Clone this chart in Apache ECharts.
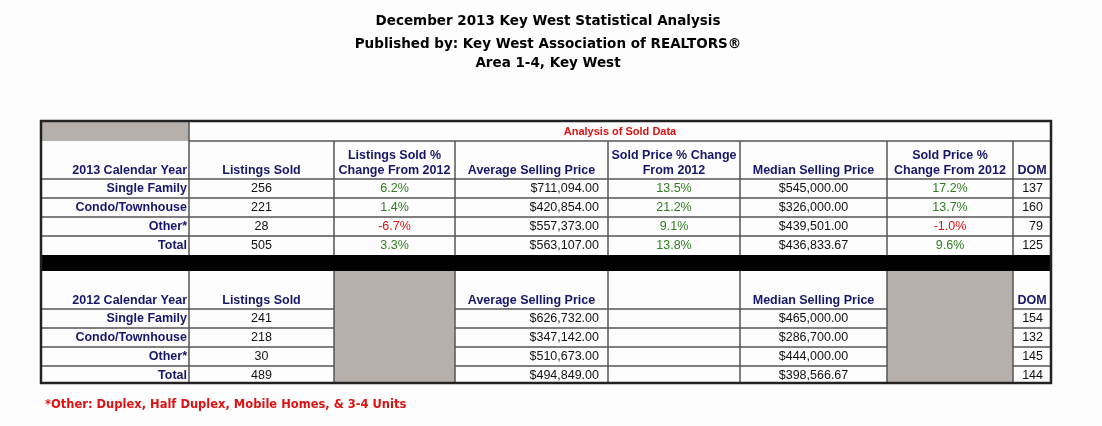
<!DOCTYPE html>
<html><head><meta charset="utf-8">
<script src="https://cdn.jsdelivr.net/npm/echarts@6/dist/echarts.min.js"></script>
<style>html,body{margin:0;padding:0;background:#fdfdfd}#c{width:1102px;height:426px}</style>
</head><body><div id="c"></div>
<script>
const titles = ["December 2013 Key West Statistical Analysis","Published by: Key West Association of REALTORS®","Area 1-4, Key West"];
const categories = ["Single Family","Condo/Townhouse","Other*","Total"];
const headers2013 = ["2013 Calendar Year","Listings Sold","Listings Sold %\nChange From 2012","Average Selling Price","Sold Price % Change\nFrom 2012","Median Selling Price","Sold Price %\nChange From 2012","DOM"];
const headers2012 = ["2012 Calendar Year","Listings Sold","","Average Selling Price","","Median Selling Price","","DOM"];
const sold2013 = [256,221,28,505];
const soldChange = [6.2,1.4,-6.7,3.3];
const avg2013 = ["$711,094.00","$420,854.00","$557,373.00","$563,107.00"];
const avgChange = [13.5,21.2,9.1,13.8];
const med2013 = ["$545,000.00","$326,000.00","$439,501.00","$436,833.67"];
const medChange = [17.2,13.7,-1.0,9.6];
const dom2013 = [137,160,79,125];
const sold2012 = [241,218,30,489];
const avg2012 = ["$626,732.00","$347,142.00","$510,673.00","$494,849.00"];
const med2012 = ["$465,000.00","$286,700.00","$444,000.00","$398,566.67"];
const dom2012 = [154,132,145,144];
const bandTitle = "Analysis of Sold Data";
const footnote = "*Other: Duplex, Half Duplex, Mobile Homes, & 3-4 Units";

const colX = [41,189,334,455,608,740,887,1013,1051];
const F = "'Liberation Sans', Arial, sans-serif";
const NAVY = "#16166b", GREEN = "#2f7d1f", RED = "#e01010";
const els = [];
function rect(x1,y1,x2,y2,fill){els.push({type:'rect',shape:{x:x1,y:y1,width:x2-x1,height:y2-y1},style:{fill:fill}});}
function line(x1,y1,x2,y2,w,c){els.push({type:'line',shape:{x1,y1,x2,y2},style:{stroke:c||'#555',lineWidth:w||1}});}
function text(t,x,y,o){els.push({type:'text',x:x,y:y,style:Object.assign({text:t,font:'12.5px '+F,fill:'#111',align:'center',verticalAlign:'middle',lineHeight:15},o||{})});}
const pct = v => v.toFixed(1)+'%';
const pc = v => v<0?RED:GREEN;

titles.forEach((t,i)=>text(t,548,[21,44,63][i],{font:"bold 13.5px 'DejaVu Sans', Verdana, sans-serif",fill:'#000'}));

rect(41,121,189,141,'#b5b0ab');
rect(334,271,455,383,'#b5b0ab');
rect(887,271,1013,383,'#b5b0ab');
rect(41,255,1051,271,'#000');

line(189,141,1051,141,1.5);
line(41,179,1051,179,1.5);
[198,217,236].forEach(y=>line(41,y,1051,y,1.5));
for(let i=1;i<colX.length-1;i++) line(colX[i],141,colX[i],255,1.5);
line(189,121,189,141,1.5);
[309,328,347,366].forEach(y=>{line(41,y,334,y,1.5);line(455,y,887,y,1.5);line(1013,y,1051,y,1.5);});
for(let i=1;i<colX.length-1;i++) line(colX[i],271,colX[i],383,1.5);
els.push({type:'rect',shape:{x:41,y:121,width:1010,height:262},style:{fill:'none',stroke:'#222',lineWidth:2.5}});

text(bandTitle,620,132,{font:'bold 11px '+F,fill:RED});

const mid = i => (colX[i]+colX[i+1])/2;
function headerRow(h,yBottom){
  h.forEach((t,i)=>{
    if(!t) return;
    const two = t.indexOf('\n')>=0;
    const y = two ? yBottom-16 : yBottom-8;
    if(i===0) text(t,colX[1]-2,y,{align:'right',font:'bold 12.5px '+F,fill:NAVY});
    else text(t,mid(i),y,{font:'bold 12.5px '+F,fill:NAVY});
  });
}
headerRow(headers2013,179);
headerRow(headers2012,309);

function dataRows(y0,step,sold,chg,avg,achg,med,mchg,dom){
  categories.forEach((c,r)=>{
    const y = y0+step*r;
    text(c,colX[1]-2,y,{align:'right',font:'bold 12.5px '+F,fill:NAVY});
    text(String(sold[r]),mid(1),y);
    if(chg) text(pct(chg[r]),mid(2),y,{fill:pc(chg[r])});
    text(avg[r],colX[4]-9,y,{align:'right'});
    if(achg) text(pct(achg[r]),mid(4),y,{fill:pc(achg[r])});
    text(med[r],mid(5),y);
    if(mchg) text(pct(mchg[r]),mid(6),y,{fill:pc(mchg[r])});
    text(String(dom[r]),colX[8]-8,y,{align:'right'});
  });
}
dataRows(189,19,sold2013,soldChange,avg2013,avgChange,med2013,medChange,dom2013);
dataRows(319,19,sold2012,null,avg2012,null,med2012,null,dom2012);

text(footnote,45,405,{align:'left',font:"bold 11.5px 'DejaVu Sans', Verdana, sans-serif",fill:RED});

const chart = echarts.init(document.getElementById('c'));
chart.setOption({backgroundColor:'#fdfdfd',graphic:{elements:els}});
</script></body></html>
